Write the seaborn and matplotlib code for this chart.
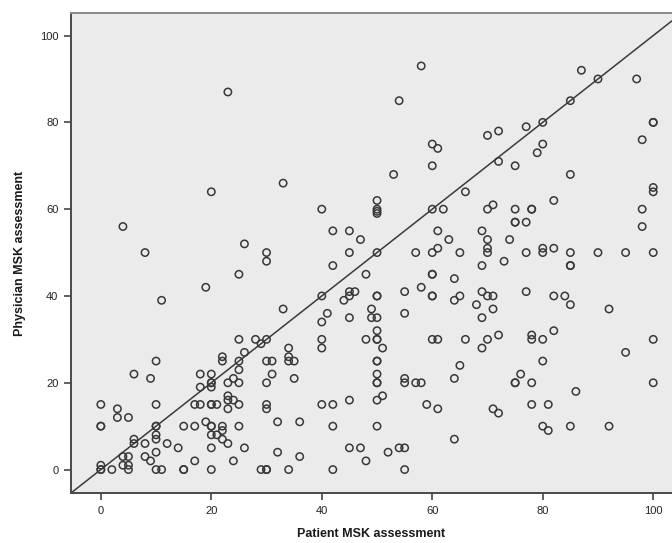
import matplotlib
matplotlib.use("Agg")
import matplotlib.pyplot as plt
import seaborn as sns
import pandas as pd

# Paired assessments: patient score (x) vs physician score (y)
patient = [
    23, 58, 54, 70, 72, 60, 61, 60, 72, 53, 75,
    87, 90, 97, 85, 80, 77, 100, 100, 98, 80, 79, 85,
    20, 4, 8, 19, 11,
    33, 40, 42, 45, 47, 26, 30, 30, 45, 42, 25, 48, 40, 45, 46, 45, 44, 33, 41, 40, 45,
    66, 50, 50, 50, 50, 60, 62, 70, 71, 75, 75, 61, 69, 63, 70, 74, 61, 60, 57, 65, 50,
    70, 70, 73, 69, 60, 60, 64, 58, 55, 50, 50, 60, 60, 65, 64, 69, 70, 71, 68, 71, 49,
    49, 50, 55, 69,
    100, 100, 82, 78, 78, 98, 75, 77, 98, 77, 80, 80, 82, 85, 85, 85, 90, 95, 100, 77,
    82, 84, 85, 92, 82,
    78, 78, 80, 100, 95, 80, 76, 75, 75, 78, 100, 86, 78, 81, 80, 81, 85, 92,
    50, 48, 50, 50, 51, 50, 50, 50, 50, 50, 51, 50, 50, 60, 61, 66, 69, 70, 72, 65, 64,
    55, 55, 57, 58, 59, 61, 71, 72, 64, 47, 48, 52, 54, 55, 55,
    25, 28, 30, 29, 40, 40, 34, 26, 22, 22, 25, 30, 31, 34, 34, 35, 25, 31, 35, 20, 20,
    20, 23, 24, 25, 30, 23, 23, 24, 25, 23, 20, 21, 30, 30, 40, 42, 45, 32, 36, 42, 20,
    20, 22, 22, 25, 21, 22, 23, 20, 26, 24, 32, 36, 45, 20, 29, 30, 30, 34, 42,
    10, 6, 9, 18, 20, 18, 0, 10, 3, 17, 18, 20, 3, 5, 0, 0, 10, 10, 15, 17, 19, 10, 6,
    6, 8, 10, 12, 14, 10, 4, 5, 8, 9, 17, 0, 0, 0, 2, 4, 5, 5, 10, 11, 15, 15, 20,
]
physician = [
    87, 93, 85, 77, 78, 75, 74, 70, 71, 68, 70,
    92, 90, 90, 85, 80, 79, 80, 80, 76, 75, 73, 68,
    64, 56, 50, 42, 39,
    66, 60, 55, 55, 53, 52, 50, 48, 50, 47, 45, 45, 40, 41, 41, 40, 39, 37, 36, 34, 35,
    64, 62, 60, 59.5, 59, 60, 60, 60, 61, 60, 57, 55, 55, 53, 53, 53, 51, 50, 50, 50, 50,
    51, 50, 48, 47, 45, 45, 44, 42, 41, 40, 40, 40, 40, 40, 39, 41, 40, 40, 38, 37, 37,
    35, 35, 36, 35,
    65, 64, 62, 60, 60, 60, 57, 57, 56, 50, 51, 50, 51, 50, 47, 47, 50, 50, 50, 41,
    40, 40, 38, 37, 32,
    31, 30, 30, 30, 27, 25, 22, 20, 20, 20, 20, 18, 15, 15, 10, 9, 10, 10,
    32, 30, 30, 30, 28, 25, 25, 22, 20, 20, 17, 16, 10, 30, 30, 30, 28, 30, 31, 24, 21,
    21, 20, 20, 20, 15, 14, 14, 13, 7, 5, 2, 4, 5, 5, 0,
    30, 30, 30, 29, 30, 28, 28, 27, 26, 25, 25, 25, 25, 26, 25, 25, 23, 22, 21, 22, 20,
    19, 20, 21, 20, 20, 17, 16, 16, 15, 14, 15, 15, 15, 14, 15, 15, 16, 11, 11, 10, 10,
    10, 10, 9, 10, 8, 7, 6, 5, 5, 2, 4, 3, 5, 0, 0, 0, 0, 0, 0,
    25, 22, 21, 22, 20, 19, 15, 15, 14, 15, 15, 15, 12, 12, 10, 10, 10, 10, 10, 10, 11, 8, 7,
    6, 6, 7, 6, 5, 4, 3, 3, 3, 2, 2, 1, 0, 0, 0, 1, 1, 0, 0, 0, 0, 0, 8,
]

x_ticks = [0, 20, 40, 60, 80, 100]
y_ticks = [0, 20, 40, 60, 80, 100]

df = pd.DataFrame({"Patient MSK assessment": patient,
                   "Physician MSK assessment": physician})

sns.set_style("white")
plt.rcParams["font.family"] = ["Liberation Sans", "DejaVu Sans"]

fig = plt.figure(figsize=(6.72, 5.43), dpi=100)
ax = fig.add_axes([71 / 672, 50 / 543, 601 / 672, 480 / 543])
ax.set_facecolor("#ebebeb")

xlim = (-5.4, 103.4)
ylim = (-5.4, 105.2)

# identity reference line y = x
ax.plot([xlim[0], xlim[1]], [xlim[0], xlim[1]], color="#3a3a3a", lw=1.1, zorder=2)

sns.scatterplot(data=df, x="Patient MSK assessment", y="Physician MSK assessment",
                ax=ax, marker="o", s=28, facecolor="none", edgecolor="#383838",
                linewidth=1.1, zorder=3, legend=False)

ax.set_xlim(*xlim)
ax.set_ylim(*ylim)
ax.set_xticks(x_ticks)
ax.set_yticks(y_ticks)
ax.tick_params(axis="both", which="major", direction="out", length=5, width=1.2,
               color="#444444", labelsize=8, labelcolor="#222222", pad=4,
               left=True, bottom=True)

for side in ("left", "bottom"):
    ax.spines[side].set_color("#4a4a4a")
    ax.spines[side].set_linewidth(1.4)
ax.spines["top"].set_color("#8a8a8a")
ax.spines["top"].set_linewidth(1.4)
ax.spines["right"].set_visible(False)

ax.set_xlabel("Patient MSK assessment", fontsize=9, fontweight="bold",
              color="#1a1a1a", labelpad=9)
ax.set_ylabel("Physician MSK assessment", fontsize=9, fontweight="bold",
              color="#1a1a1a", labelpad=10)

fig.savefig("out.png", dpi=100)
